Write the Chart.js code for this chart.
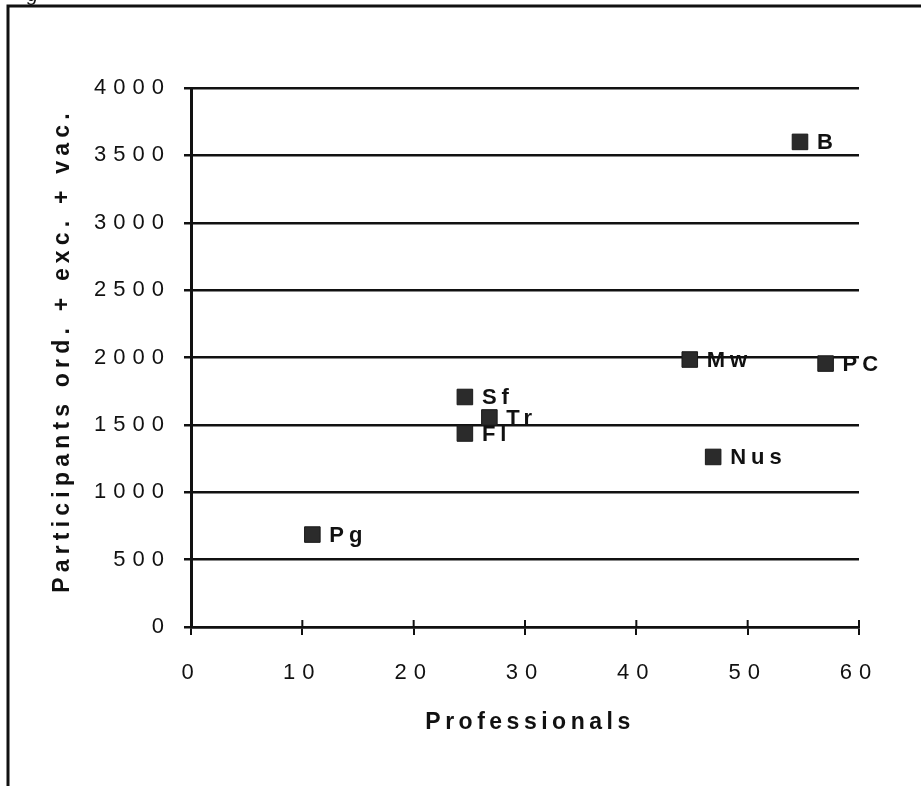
<!DOCTYPE html>
<html>
<head>
<meta charset="utf-8">
<script src="https://cdn.jsdelivr.net/npm/chart.js@4"></script>
<style>
  html, body { margin: 0; padding: 0; background: #fff; }
  #wrap { width: 921px; height: 786px; position: relative; }
</style>
</head>
<body>
<div id="wrap"><canvas id="scatter" width="921" height="786"></canvas></div>
<script>
const siteLabels = ['B', 'Mw', 'PC', 'Sf', 'Tr', 'Fl', 'Nus', 'Pg'];
const professionals = [54.7, 44.8, 57.0, 24.6, 26.8, 24.6, 46.9, 10.9];
const participants = [3600, 1985, 1955, 1707, 1555, 1436, 1262, 686];
const xTicks = [0, 10, 20, 30, 40, 50, 60];
const yTicks = [0, 500, 1000, 1500, 2000, 2500, 3000, 3500, 4000];
const xTitle = 'Professionals';
const yTitle = 'Participants ord. + exc. + vac.';

const FONT = "'Liberation Sans', Arial, Helvetica, sans-serif";

// tick labels in the scan are widely tracked
const frame = {
  id: 'frame',
  afterInit(chart) { chart.ctx.letterSpacing = '7px'; },
  beforeUpdate(chart) { chart.ctx.letterSpacing = '7px'; },
  beforeDraw(chart) {
    const ctx = chart.ctx;
    ctx.save();
    ctx.fillStyle = '#fff';
    ctx.fillRect(0, 0, chart.width, chart.height);
    ctx.strokeStyle = '#111';
    ctx.lineWidth = 3;
    ctx.beginPath();
    ctx.moveTo(8, chart.height);
    ctx.lineTo(8, 6);
    ctx.lineTo(chart.width, 6);
    ctx.stroke();
    // caption cut off above the frame
    ctx.fillStyle = '#111';
    ctx.letterSpacing = '0px';
    ctx.font = "italic 20px " + FONT;
    ctx.fillText('g', 27, 1);
    ctx.restore();
  }
};

const overlay = {
  id: 'overlay',
  afterDatasetsDraw(chart) {
    const ctx = chart.ctx;
    const xs = chart.scales.x, ys = chart.scales.y;

    // x ticks cross the axis line
    ctx.save();
    ctx.strokeStyle = '#111';
    ctx.lineWidth = 2;
    xTicks.forEach(v => {
      const px = xs.getPixelForValue(v);
      ctx.beginPath();
      ctx.moveTo(px, ys.bottom);
      ctx.lineTo(px, ys.bottom - 7);
      ctx.stroke();
    });
    ctx.restore();

    // point labels
    const meta = chart.getDatasetMeta(0);
    ctx.save();
    ctx.letterSpacing = '5px';
    ctx.font = "bold 22px " + FONT;
    ctx.fillStyle = '#111';
    ctx.textAlign = 'left';
    ctx.textBaseline = 'middle';
    meta.data.forEach((pt, i) => {
      ctx.fillText(siteLabels[i], pt.x + 17, pt.y + 1);
    });
    ctx.restore();

    // axis titles
    ctx.save();
    ctx.fillStyle = '#111';
    ctx.font = "bold 23px " + FONT;
    ctx.textAlign = 'center';
    ctx.textBaseline = 'middle';
    ctx.letterSpacing = '4.5px';
    ctx.fillText(xTitle, (xs.left + xs.right) / 2 + 5, 723);
    ctx.translate(63, (ys.top + ys.bottom) / 2 - 7);
    ctx.rotate(-Math.PI / 2);
    ctx.letterSpacing = '5.2px';
    ctx.fillText(yTitle, 0, 0);
    ctx.restore();
  }
};

new Chart(document.getElementById('scatter'), {
  type: 'scatter',
  data: {
    datasets: [{
      data: professionals.map((x, i) => ({ x: x, y: participants[i] })),
      pointStyle: 'rect',
      pointRadius: 11,
      pointHoverRadius: 11,
      backgroundColor: '#2b2b2b',
      borderColor: '#1a1a1a',
      borderWidth: 1
    }]
  },
  options: {
    responsive: false,
    animation: false,
    devicePixelRatio: 1,
    layout: { padding: { top: 88, right: 62, left: 0, bottom: 0 } },
    plugins: {
      legend: { display: false },
      tooltip: { enabled: false }
    },
    scales: {
      x: {
        type: 'linear',
        min: 0,
        max: 60,
        afterBuildTicks: s => { s.ticks = xTicks.map(v => ({ value: v })); },
        afterFit: s => { s.height = 159; },
        grid: { drawOnChartArea: false, drawTicks: true, tickLength: 8, color: '#111', lineWidth: 2 },
        border: { display: true, color: '#111', width: 2.5 },
        ticks: {
          padding: 25,
          color: '#111',
          callback: v => String(v),
          font: { family: FONT, size: 22 }
        },
        title: { display: false }
      },
      y: {
        type: 'linear',
        min: 0,
        max: 4000,
        afterBuildTicks: s => { s.ticks = yTicks.map(v => ({ value: v })); },
        afterFit: s => { s.width = 191; },
        grid: { drawTicks: true, tickLength: 7, color: '#111', lineWidth: 2.5 },
        border: { display: true, color: '#111', width: 3 },
        ticks: {
          padding: 13,
          color: '#111',
          callback: v => String(v),
          font: { family: FONT, size: 22 }
        },
        title: { display: false }
      }
    }
  },
  plugins: [frame, overlay]
});
</script>
</body>
</html>
